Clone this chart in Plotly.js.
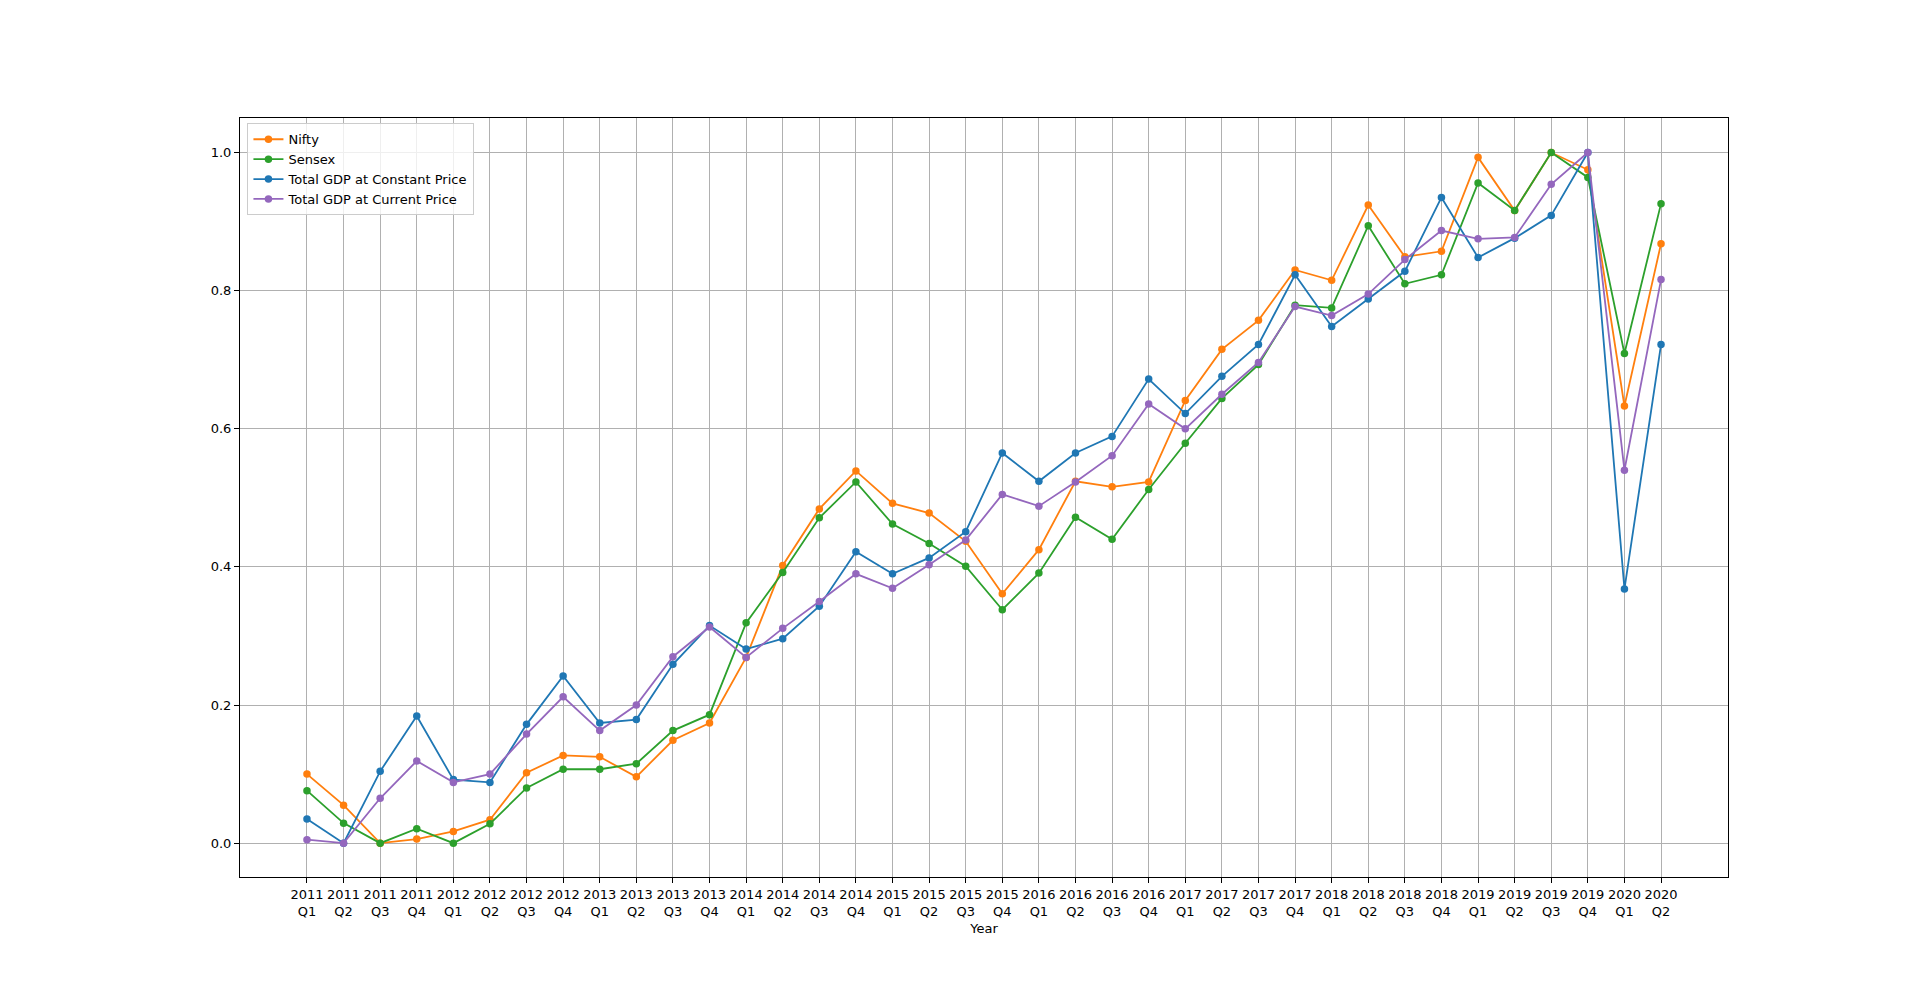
<!DOCTYPE html>
<html><head><meta charset="utf-8">
<script src="https://cdn.plot.ly/plotly-3.0.1.min.js"></script>
<style>html,body{margin:0;padding:0;background:#fff}#c{width:1920px;height:986px}</style>
</head><body><div id="c"></div>
<script>
const quarters = ["2011 Q1","2011 Q2","2011 Q3","2011 Q4","2012 Q1","2012 Q2","2012 Q3","2012 Q4","2013 Q1","2013 Q2","2013 Q3","2013 Q4","2014 Q1","2014 Q2","2014 Q3","2014 Q4","2015 Q1","2015 Q2","2015 Q3","2015 Q4","2016 Q1","2016 Q2","2016 Q3","2016 Q4","2017 Q1","2017 Q2","2017 Q3","2017 Q4","2018 Q1","2018 Q2","2018 Q3","2018 Q4","2019 Q1","2019 Q2","2019 Q3","2019 Q4","2020 Q1","2020 Q2"];
const nifty = [0.100,0.055,0.000,0.006,0.017,0.034,0.102,0.127,0.125,0.096,0.149,0.174,0.269,0.402,0.484,0.539,0.492,0.478,0.437,0.361,0.425,0.524,0.516,0.523,0.641,0.715,0.757,0.830,0.815,0.924,0.849,0.857,0.993,0.916,1.000,0.975,0.633,0.868];
const sensex = [0.076,0.029,0.000,0.021,0.000,0.028,0.080,0.107,0.107,0.115,0.163,0.186,0.319,0.392,0.471,0.523,0.462,0.434,0.401,0.338,0.391,0.472,0.440,0.512,0.579,0.644,0.693,0.779,0.775,0.894,0.810,0.823,0.956,0.916,1.000,0.964,0.709,0.926];
const gdpConstant = [0.035,0.000,0.104,0.184,0.092,0.088,0.172,0.242,0.174,0.179,0.259,0.315,0.281,0.296,0.343,0.422,0.390,0.413,0.451,0.565,0.524,0.565,0.589,0.672,0.622,0.676,0.722,0.823,0.748,0.788,0.828,0.935,0.848,0.876,0.909,1.000,0.368,0.722];
const gdpCurrent = [0.005,0.000,0.065,0.119,0.088,0.100,0.158,0.212,0.163,0.200,0.270,0.313,0.269,0.311,0.350,0.390,0.369,0.403,0.439,0.505,0.488,0.523,0.561,0.636,0.600,0.650,0.696,0.777,0.764,0.795,0.845,0.887,0.875,0.877,0.954,1.000,0.540,0.816];
const yTicks = [0.0,0.2,0.4,0.6,0.8,1.0];

const idx = quarters.map((_, i) => i);
const tickText = quarters.map(q => q.replace(" ", "<br>"));
function tr(name, y, color){
  return {x: idx, y: y, name: name, type: 'scatter', mode: 'lines+markers',
    line: {color: color, width: 1.8}, marker: {color: color, size: 7.5}};
}
const data = [
  tr('Nifty', nifty, '#ff7f0e'),
  tr('Sensex', sensex, '#2ca02c'),
  tr('Total GDP at Constant Price', gdpConstant, '#1f77b4'),
  tr('Total GDP at Current Price', gdpCurrent, '#9467bd')
];
const layout = {
  width: 1920, height: 986,
  margin: {l: 240, r: 192, t: 118, b: 109},
  paper_bgcolor: '#fff', plot_bgcolor: '#fff',
  font: {family: 'DejaVu Sans', size: 13, color: '#000'},
  showlegend: true,
  legend: {x: 0.005, y: 0.993, xanchor: 'left', yanchor: 'top', bgcolor: 'rgba(255,255,255,0.8)',
    bordercolor: '#ccc', borderwidth: 1, font: {size: 13}, tracegroupgap: 0},
  xaxis: {range: [-1.83, 38.83], tickmode: 'array', tickvals: idx, ticktext: tickText,
    showgrid: true, gridcolor: '#b0b0b0', gridwidth: 1, zeroline: false,
    showline: true, mirror: true, linecolor: '#000', linewidth: 1,
    ticks: 'outside', ticklen: 5, tickcolor: '#000', tickangle: 0,
    title: {text: 'Year', font: {size: 13}, standoff: 6}},
  yaxis: {range: [-0.049, 1.05], tickmode: 'array', tickvals: yTicks, ticktext: yTicks.map(v => v.toFixed(1)),
    showgrid: true, gridcolor: '#b0b0b0', gridwidth: 1, zeroline: false,
    showline: true, mirror: true, linecolor: '#000', linewidth: 1,
    ticks: 'outside', ticklen: 5, tickcolor: '#000'}
};
Plotly.newPlot('c', data, layout, {displayModeBar: false, staticPlot: true});
</script></body></html>
